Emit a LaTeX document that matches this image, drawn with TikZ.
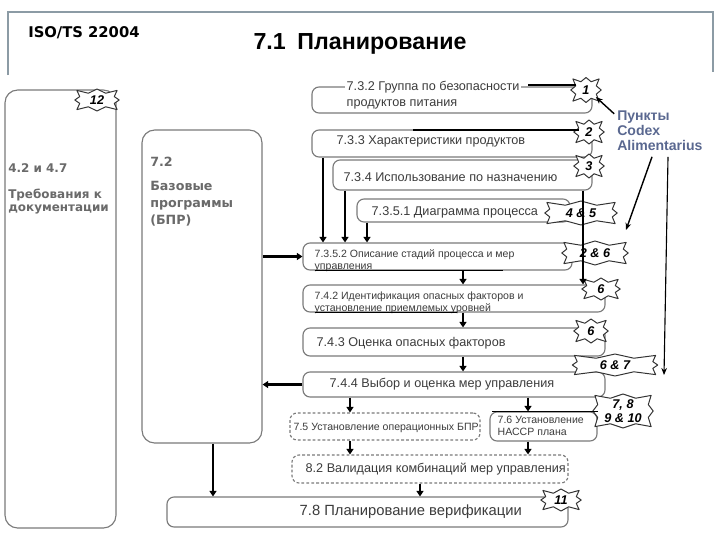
\documentclass[tikz,border=0pt]{standalone}
\usepackage{fontspec}
\setmainfont{Liberation Sans}
\newfontfamily\verdfont{DejaVu Sans}
\usetikzlibrary{positioning,arrows.meta,calc}
\newdimen\pxu \pxu=0.025cm
\definecolor{frameline}{HTML}{8C9BA5}
\definecolor{boxline}{HTML}{7A7A7A}
\definecolor{boxink}{HTML}{3C3C3C}
\definecolor{sideink}{HTML}{6A6A6A}
\definecolor{codexink}{HTML}{5A6890}
\tikzset{
  box/.style    ={rounded corners=5pt,draw=boxline,line width=0.8pt,fill=white,inner sep=0pt},
  dbox/.style   ={box,dash pattern=on 2pt off 1.5pt},
  tall/.style   ={box,rounded corners=9pt},
  txt/.style    ={anchor=west,align=left,text=boxink,inner sep=1pt,font=\fontsize{9}{11.3}\selectfont},
  stxt/.style   ={txt,font=\fontsize{7.5}{8.2}\selectfont},
  side/.style   ={anchor=north west,align=left,text=sideink,inner sep=0pt},
  badgecore/.style={rectangle,inner sep=0pt},
  badgeline/.style={draw=black!80,fill=white,line width=0.7pt,line join=round},
  badgetext/.style={inner sep=0pt,align=center,font=\bfseries\itshape\fontsize{9}{9.5}\selectfont},
  arr/.style    ={-{Triangle[length=4pt,width=5pt]},line width=1.7pt},
  carr/.style   ={-{Stealth[length=5pt,width=4pt]},line width=1pt},
  tie/.style    ={line width=0.9pt},
  frame/.style  ={draw=frameline,line width=0.8pt},
}
% badge: name, position, core width, core height, text
\newcommand{\badge}[5]{%
  \node[badgecore, minimum width=#3\pxu, minimum height=#4\pxu] (#1) at (#2) {};
  \draw[badgeline] ([xshift=-3.5pt]#1.west) -- ($(#1.west)!.5!(#1.north west)$)
    -- ([shift={(-2pt,2pt)}]#1.north west) -- ($(#1.north west)!.5!(#1.north)$)
    -- ([yshift=3pt]#1.north) -- ($(#1.north)!.5!(#1.north east)$)
    -- ([shift={(2pt,2pt)}]#1.north east) -- ($(#1.north east)!.5!(#1.east)$)
    -- ([xshift=3.5pt]#1.east) -- ($(#1.east)!.5!(#1.south east)$)
    -- ([shift={(2pt,-2pt)}]#1.south east) -- ($(#1.south east)!.5!(#1.south)$)
    -- ([yshift=-3pt]#1.south) -- ($(#1.south)!.5!(#1.south west)$)
    -- ([shift={(-2pt,-2pt)}]#1.south west) -- ($(#1.south west)!.5!(#1.west)$) -- cycle;
  \node[badgetext] (#1-t) at (#1) {#5};
}
\begin{document}
\begin{tikzpicture}[x=0.025cm,y=-0.025cm]
  \useasboundingbox (0,0) rectangle (720,540);
  % header
  \draw[frame] (8,75) |- (713,12) -- (713,72);
  \node[anchor=west,inner sep=0pt,font=\verdfont\bfseries\fontsize{10.5}{12}\selectfont] (iso) at (28,33) {ISO/TS 22004};
  \node[inner sep=0pt,font=\bfseries\fontsize{16.5}{18}\selectfont] (title) at (360,44) {7.1\enspace Планирование};

  % side columns
  \node[tall, minimum width=111\pxu, minimum height=438\pxu] (doc) at (60.5,309) {};
  \node[side, font=\verdfont\bfseries\fontsize{8.5}{9.4}\selectfont] (tdoc) at (8,163) {4.2 и 4.7\\[9pt]Требования к\\документации};
  \node[tall, minimum width=120\pxu, minimum height=313\pxu] (bpr) at (202,286.5) {};
  \node[side, font=\verdfont\bfseries\fontsize{9}{12}\selectfont] (tbpr) at (150,157) {7.2\\[5pt]Базовые\\программы\\(БПР)};

  % main chain
  \node[box, minimum width=280\pxu, minimum height=26\pxu] (b732) at (452,100) {};
  \node[txt, fill=white] (t732) at (345,95) {7.3.2 Группа по безопасности\\продуктов питания};
  \node[box, minimum width=280\pxu, minimum height=27\pxu] (b733) at (452,143.5) {};
  \node[txt] (t733) at (335,141) {7.3.3 Характеристики продуктов};
  \node[box, minimum width=259\pxu, minimum height=30\pxu] (b734) at (462.5,175) {};
  \node[txt] (t734) at (342,177) {7.3.4 Использование по назначению};
  \node[box, minimum width=213\pxu, minimum height=23\pxu] (b7351) at (463.5,210.5) {};
  \node[txt] (t7351) at (370,212) {7.3.5.1 Диаграмма процесса};
  \node[box, minimum width=269\pxu, minimum height=27\pxu] (b7352) at (437.5,256.5) {};
  \node[stxt] (t7352) at (313,260.5) {7.3.5.2 Описание стадий процесса и мер\\управления};
  \node[box, minimum width=302\pxu, minimum height=27\pxu] (b742) at (454,298.5) {};
  \node[stxt] (t742) at (313,303) {7.4.2 Идентификация опасных факторов и\\установление приемлемых уровней};
  \node[box, minimum width=302\pxu, minimum height=28\pxu] (b743) at (454,342) {};
  \node[txt] (t743) at (315,343) {7.4.3 Оценка опасных факторов};
  \node[box, minimum width=302\pxu, minimum height=25\pxu] (b744) at (454,384.5) {};
  \node[txt] (t744) at (328,384) {7.4.4 Выбор и оценка мер управления};
  \node[dbox, minimum width=190\pxu, minimum height=27\pxu] (b75) at (385,426.5) {};
  \node[stxt] (t75) at (292,428) {7.5 Установление операционных БПР};
  \node[box, minimum width=107\pxu, minimum height=29\pxu] (b76) at (543.5,426.5) {};
  \node[stxt] (t76) at (496,426) {7.6 Установление\\НАССР плана};
  \node[dbox, minimum width=276\pxu, minimum height=28\pxu] (b82) at (430,469) {};
  \node[txt] (t82) at (304,469) {8.2 Валидация комбинаций мер управления};
  \node[box, minimum width=401\pxu, minimum height=30\pxu] (b78) at (367.5,512) {};
  \node[txt, font=\fontsize{10.5}{12}\selectfont] (t78) at (298,512) {7.8 Планирование верификации};

  % flow
  \draw[arr] (323,0 |- b733.south) -- (323,0 |- b7352.north);
  \draw[arr] (345,0 |- b734.south) -- (345,0 |- b7352.north);
  \draw[arr] (367,0 |- b7351.south) -- (367,0 |- b7352.north);
  \draw[arr] (463,0 |- b7352.south) -- (463,0 |- b742.north);
  \draw[arr] (463,0 |- b742.south) -- (463,0 |- b743.north);
  \draw[arr] (463,0 |- b743.south) -- (463,0 |- b744.north);
  \draw[arr] (350,0 |- b744.south) -- (350,0 |- b75.north);
  \draw[arr] (528,0 |- b744.south) -- (528,0 |- b76.north);
  \draw[arr] (350,0 |- b75.south) -- (350,0 |- b82.north);
  \draw[arr] (528,0 |- b76.south) -- (528,0 |- b82.north);
  \draw[arr] (420,0 |- b82.south) -- (420,0 |- b78.north);
  \draw[arr] (bpr.east |- b7352) -- (b7352.west);
  \draw[arr] (b744.west) -- (b744.west -| bpr.east);
  \draw[arr] (213,0 |- bpr.south) -- (213,0 |- b78.north);

  % badges
  \badge{b1}{586,90}{20}{16}{1}
  \badge{b2}{589,132}{20}{15}{2}
  \badge{b3}{589,166}{20}{15}{3}
  \badge{b45}{581,213}{62}{15}{4 \& 5}
  \badge{b26}{595,253}{56}{15}{2 \& 6}
  \badge{b6a}{601,289}{28}{13}{6}
  \badge{b6b}{591,331}{24}{15}{6}
  \badge{b67}{615,365}{75}{13}{6 \& 7}
  \badge{b710}{623,411}{50}{25}{7, 8\\9 \& 10}
  \badge{b11}{561,500}{30}{13}{11}
  \badge{b12}{97,100}{34}{13}{12}
  \draw[arr] (583,0 |- b734.south) -- (583,0 |- b742.north);

  % ties to badges
  \coordinate (c732) at (528,85);
  \draw[tie] (c732) -- (c732 -| b1.west);
  \coordinate (c733) at (413,130);
  \draw[tie] (c733) -- (c733 -| b2.west);
  \draw[tie] ([xshift=2pt]b76.north west) -- (b76.north west -| b710.west);
  \coordinate (u1a) at (315,0 |- b7352.south);
  \coordinate (u1b) at (503,0 |- b7352.south);
  \draw[tie] (u1a) -- (u1b);
  \coordinate (u2a) at (315,0 |- b742.south);
  \coordinate (u2b) at (457,0 |- b742.south);
  \draw[tie] (u2a) -- (u2b);

  % codex
  \node[anchor=north west,align=left,inner sep=0pt,text=codexink,font=\bfseries\fontsize{10}{10.6}\selectfont] (codex) at (617,111) {Пункты\\Codex\\Alimentarius};
  \draw[carr] ([xshift=-2pt,yshift=-2pt]codex.north west) -- ([xshift=7pt,yshift=-5pt]b1.center);
  \coordinate (cs) at ([yshift=-4pt]codex.south);
  \coordinate (cx1) at (626,230);
  \coordinate (cx2) at (664,375);
  \draw[carr] (652,0 |- cs) -- (cx1);
  \draw[carr, line width=0.8pt] (668,0 |- cs) -- (cx2);
\end{tikzpicture}
\end{document}
